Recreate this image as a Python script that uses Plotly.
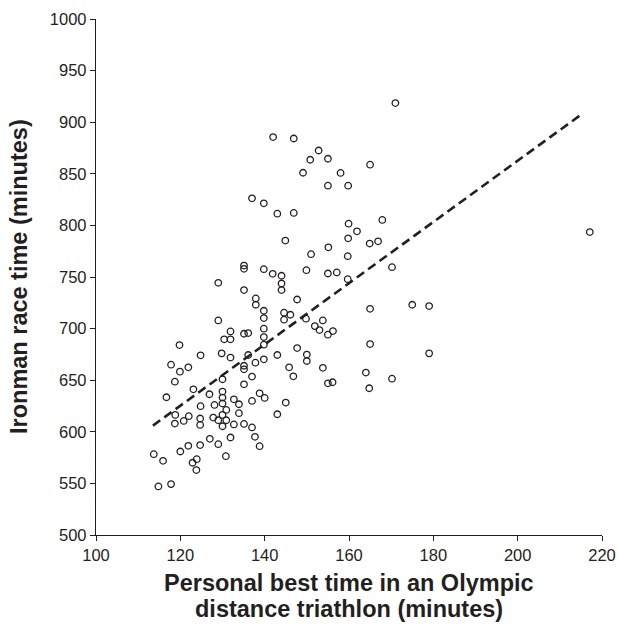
import plotly.graph_objects as go

# Personal best Olympic-distance time (min) and Ironman race time (min)
olympic_pb = [
    171.0, 142.0, 146.9, 152.8, 150.8, 155.0, 149.1, 158.0, 165.0, 155.0,
    159.8, 137.0, 139.8, 143.0, 146.9, 159.9, 167.9, 161.9, 217.1,
    144.9, 135.1, 135.1, 139.8, 141.9, 144.0, 144.0, 144.0, 129.0, 135.1,
    137.9, 137.9, 139.8, 139.8, 139.8, 139.8, 139.8, 144.6, 146.1, 144.6,
    129.0, 131.9, 130.4, 131.9, 135.1, 136.1, 119.8, 124.8, 129.8, 131.9,
    136.1, 137.8, 139.8, 143.0, 135.1, 117.8, 121.9, 145.8,
    159.8, 164.9, 166.9, 155.1, 151.0, 159.7, 149.9, 155.0, 157.1, 159.7,
    170.2, 147.7, 175.0, 179.0, 165.0, 149.8, 153.8, 151.9, 153.0, 155.0,
    156.2, 165.0, 179.0, 147.7, 150.0, 150.0, 153.8,
    146.8, 155.0, 156.1, 164.0, 170.2, 164.8,
    119.9, 118.7, 123.1, 116.7, 126.9, 130.0, 130.0, 130.0, 130.0, 135.1,
    137.0, 135.1, 138.8, 140.0, 137.0, 132.7, 133.9, 128.1, 124.8, 145.0,
    143.0, 130.9, 133.9, 118.8, 122.0, 124.7, 124.7, 127.8, 130.0, 129.0,
    130.9, 130.0, 120.8, 118.7, 132.7, 135.1, 137.0, 131.9, 137.7, 138.8,
    127.0, 129.0, 124.7, 121.9, 120.0, 130.8, 113.7, 115.9, 122.9, 123.9,
    123.8, 114.8, 117.8,
]
ironman_time = [
    918.5, 885.6, 884.2, 872.6, 863.6, 864.6, 851.0, 850.8, 858.8, 838.5,
    838.5, 826.2, 821.4, 811.4, 812.1, 801.7, 805.3, 794.3, 793.5,
    785.3, 761.1, 757.9, 757.6, 753.1, 751.2, 743.7, 737.3, 744.4, 737.3,
    729.2, 723.1, 717.3, 710.2, 699.9, 691.8, 684.4, 715.4, 713.4, 708.6,
    707.9, 697.3, 689.6, 689.6, 695.0, 695.7, 684.0, 674.1, 676.0, 671.9,
    674.4, 667.0, 670.2, 674.4, 664.0, 665.0, 662.5, 662.5,
    787.5, 782.4, 784.6, 778.8, 772.1, 770.2, 756.6, 753.4, 754.4, 747.9,
    759.5, 728.2, 723.1, 721.8, 719.2, 709.6, 707.9, 702.4, 698.6, 694.1,
    697.6, 685.0, 676.0, 681.1, 674.8, 668.6, 662.0,
    653.8, 647.0, 648.0, 657.4, 651.5, 642.2,
    658.3, 648.6, 641.2, 633.5, 636.4, 650.9, 639.0, 633.2, 627.4, 660.5,
    653.5, 646.0, 637.3, 632.8, 629.9, 631.5, 626.7, 626.0, 624.8, 628.3,
    617.0, 621.2, 618.0, 616.4, 615.1, 612.9, 606.7, 613.8, 616.4, 611.2,
    611.2, 605.4, 610.5, 608.0, 607.1, 607.6, 604.2, 594.5, 595.1, 586.1,
    593.2, 588.0, 587.1, 586.4, 580.9, 576.4, 578.3, 571.9, 570.0, 573.5,
    562.9, 547.1, 549.3,
]

# Trend line end points
trend_x = [113.5, 215.1]
trend_y = [606.0, 907.5]

x_ticks = [100, 120, 140, 160, 180, 200, 220]
y_ticks = [500, 550, 600, 650, 700, 750, 800, 850, 900, 950, 1000]

x_title_lines = ["Personal best time in an Olympic", "distance triathlon (minutes)"]
y_title = "Ironman race time (minutes)"

ink = "#231f20"
font_family = "Liberation Sans, Arial, sans-serif"

fig = go.Figure()
fig.add_trace(go.Scatter(
    x=olympic_pb, y=ironman_time, mode="markers",
    marker=dict(symbol="circle-open", size=6.5, color=ink, line=dict(width=1.3, color=ink)),
    showlegend=False, hoverinfo="x+y",
))
fig.add_trace(go.Scatter(
    x=trend_x, y=trend_y, mode="lines",
    line=dict(color=ink, width=2.6, dash="9px,5px"),
    showlegend=False, hoverinfo="skip",
))

axis_common = dict(
    showline=True, linecolor=ink, linewidth=1.3, ticks="outside", ticklen=5,
    tickcolor=ink, tickwidth=1.3, showgrid=False, zeroline=False,
    tickfont=dict(size=16.5, color=ink, family=font_family), automargin=False,
)

fig.update_layout(
    width=618, height=624,
    margin=dict(l=96, r=16, t=19, b=89),
    paper_bgcolor="white", plot_bgcolor="white",
    font=dict(family=font_family, color=ink, size=16),
    xaxis=dict(range=[100, 220], tickvals=x_ticks,
               ticktext=[str(v) for v in x_ticks], **axis_common),
    yaxis=dict(range=[500, 1000], tickvals=y_ticks,
               ticktext=[str(v) for v in y_ticks], **axis_common),
)

# Axis titles as annotations for precise placement
fig.add_annotation(text="<b>" + x_title_lines[0] + "</b>", xref="paper", yref="paper",
                   x=0.5, y=0, xanchor="center", yanchor="middle", yshift=-48,
                   showarrow=False, font=dict(size=23.5, color=ink, family=font_family))
fig.add_annotation(text="<b>" + x_title_lines[1] + "</b>", xref="paper", yref="paper",
                   x=0.5, y=0, xanchor="center", yanchor="middle", yshift=-74,
                   showarrow=False, font=dict(size=23.5, color=ink, family=font_family))
fig.add_annotation(text="<b>" + y_title + "</b>", xref="paper", yref="paper",
                   x=0, y=0.5, xanchor="center", yanchor="middle", xshift=-77,
                   textangle=-90, showarrow=False,
                   font=dict(size=23.5, color=ink, family=font_family))

fig.write_html(
    "out.html",
    config={"displayModeBar": False},
    post_script="document.body.style.margin='0';document.body.style.padding='0';"
                "document.body.style.overflow='hidden';",
)
